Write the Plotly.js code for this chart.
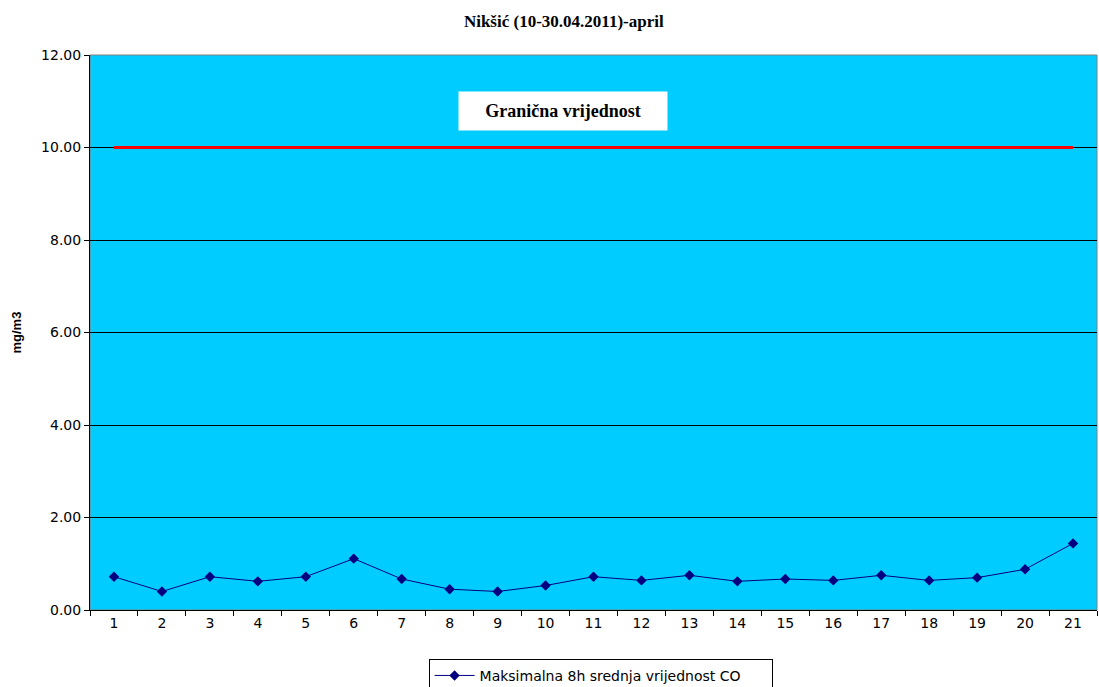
<!DOCTYPE html>
<html>
<head>
<meta charset="utf-8">
<script src="https://cdn.plot.ly/plotly-3.0.1.min.js"></script>
<style>
  html, body { margin: 0; padding: 0; background: #ffffff; }
  #chart { width: 1099px; height: 687px; }
</style>
</head>
<body>
<div id="chart"></div>
<script>
// Days of the measurement period (10-30 April 2011), numbered 1..21
const days = ['1','2','3','4','5','6','7','8','9','10','11','12','13','14','15','16','17','18','19','20','21'];
// Maximum 8-hour mean CO concentration, mg/m3
const coMax8h = [0.72, 0.40, 0.72, 0.62, 0.72, 1.11, 0.67, 0.45, 0.40, 0.53, 0.72, 0.64, 0.75, 0.62, 0.67, 0.64, 0.75, 0.64, 0.70, 0.88, 1.44];
// Limit value, mg/m3
const limitValue = 10;
const yTicks = [0, 2, 4, 6, 8, 10, 12];

const sans = 'DejaVu Sans, Verdana, sans-serif';
const serif = 'Liberation Serif, Times New Roman, serif';

const traces = [
  {
    x: days,
    y: days.map(() => limitValue),
    type: 'scatter',
    mode: 'lines',
    line: { color: '#ff0000', width: 3 },
    showlegend: false,
    hoverinfo: 'skip'
  },
  {
    x: days,
    y: coMax8h,
    type: 'scatter',
    mode: 'lines+markers',
    name: 'Maksimalna 8h srednja vrijednost CO',
    line: { color: '#000080', width: 1 },
    marker: { symbol: 'diamond', size: 8, color: '#000080' }
  }
];

const layout = {
  width: 1099,
  height: 687,
  margin: { l: 90, r: 2, t: 55, b: 77, autoexpand: false },
  paper_bgcolor: '#ffffff',
  plot_bgcolor: '#00ccff',
  font: { family: sans, size: 14, color: '#000000' },
  title: {
    text: '<b>Nikšić (10-30.04.2011)-april</b>',
    font: { family: serif, size: 17, color: '#000000' },
    x: 0.513, xanchor: 'center',
    y: 0.97, yanchor: 'middle'
  },
  xaxis: {
    type: 'category',
    tickson: 'boundaries',
    ticks: 'outside',
    ticklen: 5,
    tickcolor: '#000000',
    showline: true,
    linecolor: '#000000',
    linewidth: 1,
    showgrid: false,
    zeroline: false,
    tickfont: { family: sans, size: 14 },
    range: [-0.5, 20.5]
  },
  yaxis: {
    range: [0, 12],
    tickvals: yTicks,
    tickformat: '.2f',
    ticks: 'outside',
    ticklen: 5,
    tickcolor: '#000000',
    showline: true,
    linecolor: '#000000',
    linewidth: 1,
    showgrid: true,
    gridcolor: '#000000',
    gridwidth: 1,
    zeroline: false,
    tickfont: { family: sans, size: 14 }
  },
  shapes: [
    {
      type: 'rect', xref: 'paper', yref: 'paper',
      x0: 0, x1: 1, y0: 0, y1: 1,
      line: { color: '#808080', width: 1 },
      layer: 'below'
    }
  ],
  annotations: [
    {
      // y-axis title
      xref: 'paper', yref: 'paper',
      x: -0.0725, y: 0.5,
      xanchor: 'center', yanchor: 'middle',
      text: '<b>mg/m3</b>',
      textangle: -90,
      showarrow: false,
      font: { family: 'Liberation Sans, Arial, sans-serif', size: 13, color: '#000000' }
    },
    {
      xref: 'paper', yref: 'paper',
      x: 0.47, y: 0.899,
      xanchor: 'center', yanchor: 'middle',
      text: '<b>Granična vrijednost</b>',
      showarrow: false,
      font: { family: serif, size: 18, color: '#000000' },
      bgcolor: '#ffffff',
      width: 206,
      height: 36,
      align: 'center'
    }
  ],
  showlegend: true,
  legend: {
    orientation: 'h',
    x: 0.507, xanchor: 'center',
    y: -0.088, yanchor: 'top',
    bgcolor: '#ffffff',
    bordercolor: '#000000',
    borderwidth: 1,
    font: { family: sans, size: 14 },
    entrywidth: 287,
    itemwidth: 40
  }
};

Plotly.newPlot('chart', traces, layout, { displayModeBar: false, staticPlot: true });
</script>
</body>
</html>
